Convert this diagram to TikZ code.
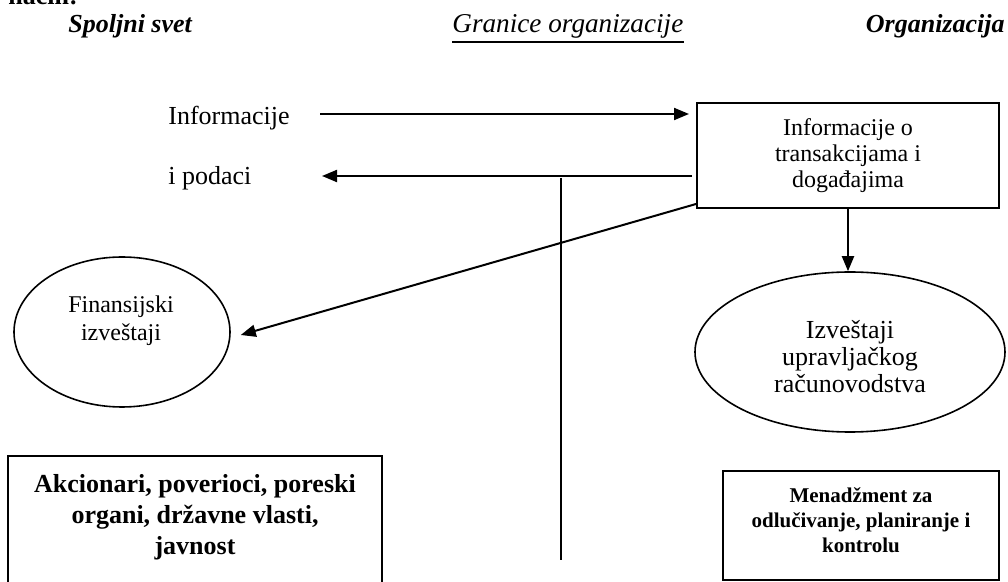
\documentclass[tikz,border=0pt]{standalone}
\usepackage{fontspec}
\setmainfont{Liberation Serif}
\usetikzlibrary{shapes.geometric,arrows.meta}

\def\fbig{\fontsize{13}{15.5}\selectfont}
\def\fmid{\fontsize{12}{13}\selectfont}
\def\fsmall{\fontsize{10.5}{12.5}\selectfont}

\begin{document}
\begin{tikzpicture}[x=0.5pt,y=-0.5pt,
    txt/.style={inner sep=0pt},
    arr/.style={-{Triangle[length=7.5pt,width=6pt]},line width=1pt},
    box/.style={draw,line width=1pt,align=center},
    oval/.style={draw,ellipse,line width=0.8pt,inner sep=0pt}]
        \clip (0,0) rectangle (1008,582);

        % headings
        \node[txt, anchor=base west, font=\fbig\bfseries] (nacin) at (8,5) {način:};
        \node[txt, anchor=base west, font=\fbig\bfseries\itshape] (spoljni) at (68,33) {Spoljni svet};
        \node[txt, anchor=base west, font=\fontsize{13.6}{15}\selectfont\itshape] (granice) at (452,33) {Granice organizacije};
        \draw[line width=0.9pt] ([yshift=-4.5pt]granice.base west) -- ([yshift=-4.5pt]granice.base east);
        \node[txt, anchor=base east, font=\fbig\bfseries\itshape] (org) at (1005,33) {Organizacija};

        % inside the organization
        \node[box, font=\fmid, minimum width=151pt, minimum height=52.5pt] (trans) at (848,155.5) {Informacije o\\transakcijama i\\događajima};
        \node[oval, minimum width=155pt, minimum height=80pt] (upr) at (850,352) {};
        \node[align=center, font=\fontsize{13}{13.5}\selectfont] (uprtxt) at (850,357) {Izveštaji\\upravljačkog\\računovodstva};
        \node[box, font=\fsmall\bfseries, minimum width=138pt, minimum height=54.5pt, text depth=5pt] (menadz) at (861,525.5) {Menadžment za\\odlučivanje, planiranje i\\kontrolu};

        % outside world
        \node[txt, anchor=base west, font=\fbig] (info) at (168,125) {Informacije};
        \node[txt, anchor=base west, font=\fbig] (podaci) at (168,185) {i podaci};
        \node[oval, minimum width=108pt, minimum height=75pt] (fin) at (122,332) {};
        \node[align=center, font=\fontsize{12}{14}\selectfont] (fintxt) at (121,321) {Finansijski\\izveštaji};
        \node[box, font=\fbig\bfseries, minimum width=187pt, inner ysep=9pt, text depth=55pt, anchor=north] (javnost) at (195,455) {Akcionari, poverioci, poreski\\organi, državne vlasti,\\javnost};

        % boundary
        \coordinate (gtop) at (561,178);
        \coordinate (gbot) at (561,560);
        \draw[line width=1pt] (gtop) -- (gbot);

        % flows
        \coordinate (infoout) at (320,114);
        \coordinate (podaciin) at (322,176);
        \draw[arr, shorten >=3.5pt] (infoout) -- (infoout -| trans.west);
        \draw[arr, shorten <=2pt] (podaciin -| trans.west) -- (podaciin);
        \draw[arr] ([yshift=2.5pt]trans.south west) -- ([xshift=5pt,yshift=-1.5pt]fin.east);
        \draw[arr] (trans.south) -- (trans.south |- upr.north);
\end{tikzpicture}
\end{document}
